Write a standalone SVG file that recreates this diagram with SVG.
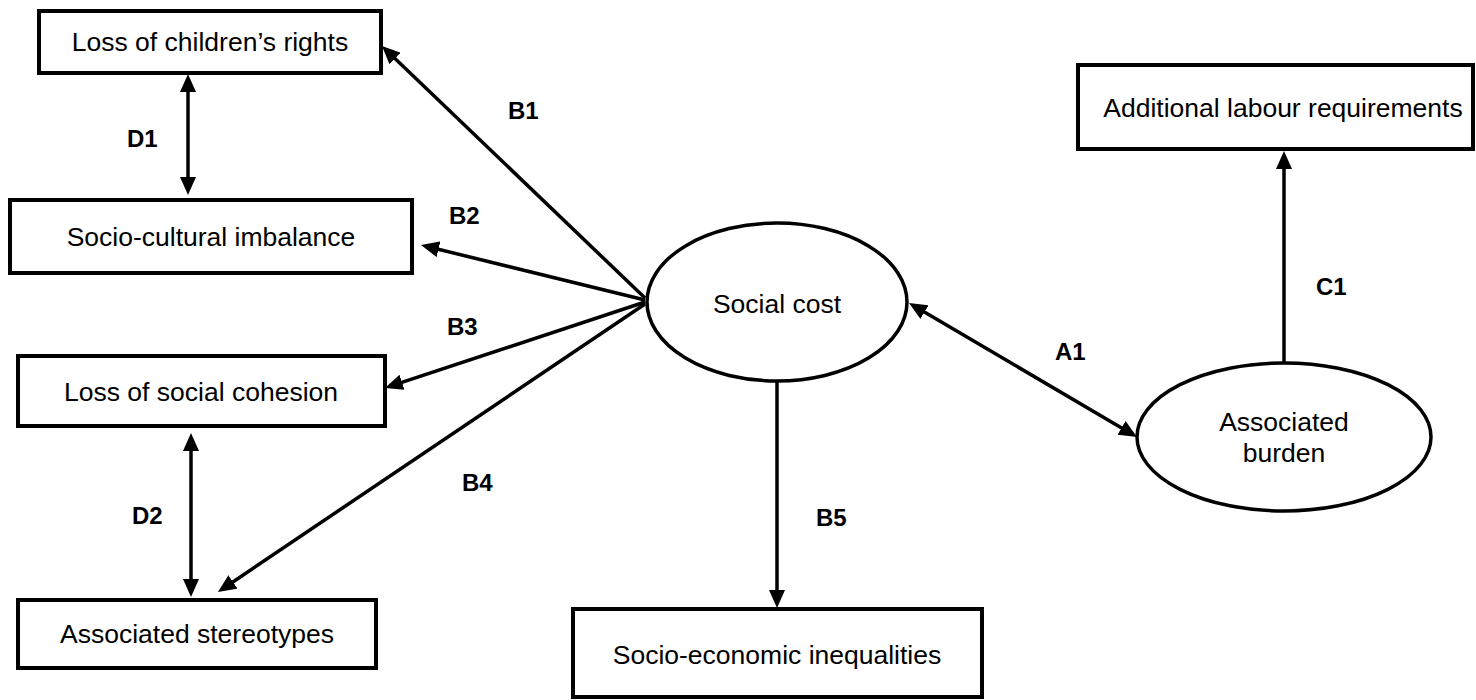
<svg xmlns="http://www.w3.org/2000/svg" width="1476" height="700" viewBox="0 0 1476 700">
  <style>
    .box { fill: #fff; stroke: #000; stroke-width: 4; }
    .oval { fill: #fff; stroke: #000; stroke-width: 3.5; }
    .lbl { font-family: "Liberation Sans", Arial, sans-serif; font-size: 26.5px; fill: #000; text-anchor: middle; }
    .tag { font-family: "Liberation Sans", Arial, sans-serif; font-size: 24px; font-weight: bold; fill: #000; }
    .edge { stroke: #000; stroke-width: 3.5; fill: none; }
  </style>
  <defs>
    <marker id="head" markerUnits="userSpaceOnUse" markerWidth="18" markerHeight="16" refX="13" refY="8" orient="auto-start-reverse">
      <path d="M0,0 L18,8 L0,16 z" fill="#000"/>
    </marker>
  </defs>
  <rect width="1476" height="700" fill="#fff"/>

  <!-- connectors -->
  <g id="connectors">
    <line class="edge" x1="645" y1="298" x2="385.6" y2="49.5" marker-end="url(#head)"/>
    <line class="edge" x1="645" y1="300" x2="425.9" y2="246.2" marker-end="url(#head)"/>
    <line class="edge" x1="645" y1="302" x2="389.7" y2="386.4" marker-end="url(#head)"/>
    <line class="edge" x1="645" y1="304" x2="222.1" y2="589.2" marker-end="url(#head)"/>
    <line class="edge" x1="777" y1="382" x2="777" y2="603" marker-end="url(#head)"/>
    <line class="edge" x1="913.3" y1="305.5" x2="1132.7" y2="434.5" marker-start="url(#head)" marker-end="url(#head)"/>
    <line class="edge" x1="1284" y1="363" x2="1284" y2="156" marker-end="url(#head)"/>
    <line class="edge" x1="188" y1="79" x2="188" y2="190" marker-start="url(#head)" marker-end="url(#head)"/>
    <line class="edge" x1="191" y1="438" x2="191" y2="592" marker-start="url(#head)" marker-end="url(#head)"/>
    <text class="tag" x="508" y="119">B1</text>
    <text class="tag" x="449" y="224">B2</text>
    <text class="tag" x="447" y="335">B3</text>
    <text class="tag" x="462" y="491">B4</text>
    <text class="tag" x="816" y="526">B5</text>
    <text class="tag" x="1055" y="360">A1</text>
    <text class="tag" x="1316" y="295">C1</text>
    <text class="tag" x="127" y="147">D1</text>
    <text class="tag" x="132" y="524">D2</text>
  </g>

  <!-- nodes -->
  <g id="children-rights">
    <rect class="box" x="39" y="11" width="342" height="62"/>
    <text class="lbl" x="210" y="51">Loss of children’s rights</text>
  </g>
  <g id="socio-cultural">
    <rect class="box" x="10" y="200" width="402" height="73"/>
    <text class="lbl" x="211" y="246">Socio-cultural imbalance</text>
  </g>
  <g id="social-cohesion">
    <rect class="box" x="18" y="356" width="367" height="70"/>
    <text class="lbl" x="201" y="401">Loss of social cohesion</text>
  </g>
  <g id="stereotypes">
    <rect class="box" x="18" y="600" width="358" height="68"/>
    <text class="lbl" x="197" y="643">Associated stereotypes</text>
  </g>
  <g id="social-cost">
    <ellipse class="oval" cx="777" cy="302" rx="130" ry="79"/>
    <text class="lbl" x="777" y="313">Social cost</text>
  </g>
  <g id="inequalities">
    <rect class="box" x="573" y="609" width="409" height="88"/>
    <text class="lbl" x="777" y="664">Socio-economic inequalities</text>
  </g>
  <g id="labour">
    <rect class="box" x="1078" y="65" width="395" height="84"/>
    <text class="lbl" x="1283" y="117">Additional labour requirements</text>
  </g>
  <g id="burden">
    <ellipse class="oval" cx="1284" cy="437" rx="147" ry="74"/>
    <text class="lbl" x="1284" y="431">Associated</text>
    <text class="lbl" x="1284" y="462">burden</text>
  </g>
</svg>
